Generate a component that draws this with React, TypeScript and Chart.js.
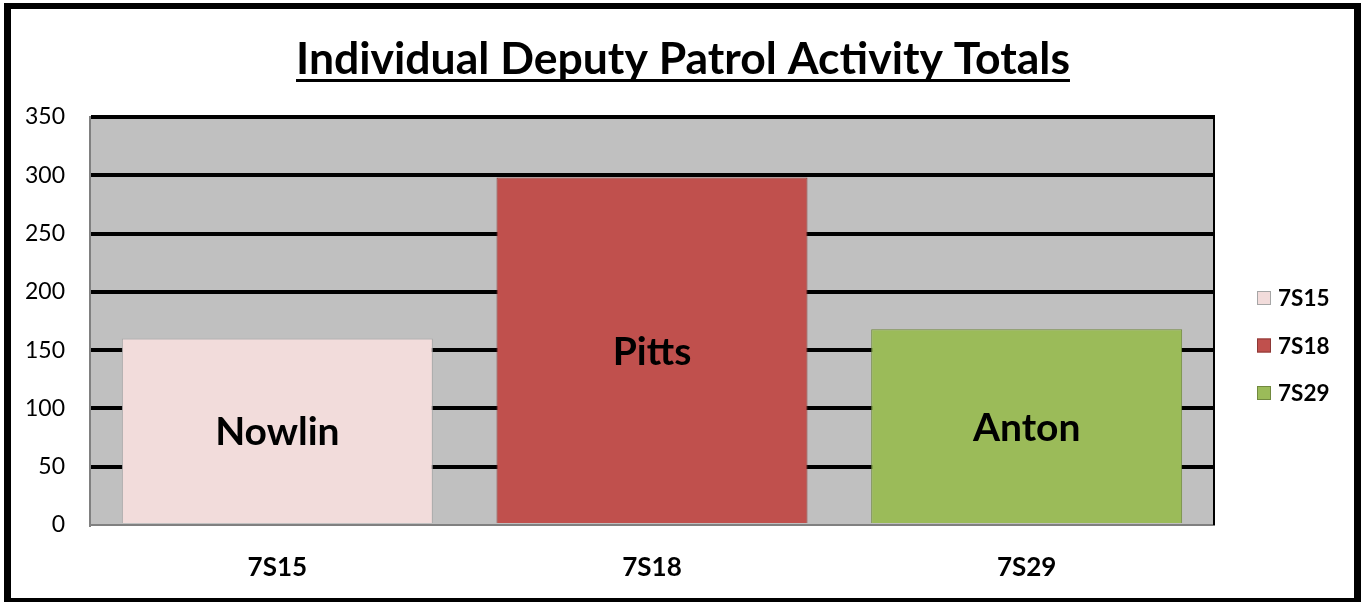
import React, { useEffect, useRef } from "react";
import { Chart, registerables } from "chart.js";

Chart.register(...registerables);

const categories = ["7S15", "7S18", "7S29"];
const deputies = ["Nowlin", "Pitts", "Anton"];
const totals = [160, 298, 168];
const fillColors = ["#F2DCDB", "#C0504D", "#9BBB59"];
const edgeColors = ["#A6A6A6", "#8C3836", "#71893F"];
const yMax = 350;
const yStep = 50;
const titleText = "Individual Deputy Patrol Activity Totals";

const FONT = "Lato, 'Open Sans', sans-serif";

const framePlugin = {
  id: "frame",
  beforeDraw(chart: any) {
    const { ctx, width, height, chartArea } = chart;
    ctx.save();
    ctx.fillStyle = "#000";
    ctx.fillRect(4, 3, width - 4, height - 3);
    ctx.fillStyle = "#fff";
    ctx.fillRect(11, 9, width - 18, height - 13);
    ctx.fillStyle = "#C0C0C0";
    ctx.fillRect(chartArea.left, chartArea.top, chartArea.right - chartArea.left, chartArea.bottom - chartArea.top);
    // title
    ctx.font = `bold 44.5px ${FONT}`;
    ctx.fillStyle = "#000";
    ctx.textAlign = "center";
    ctx.textBaseline = "alphabetic";
    const cx = 683;
    const baseY = 74;
    ctx.fillText(titleText, cx, baseY);
    const w = ctx.measureText(titleText).width;
    ctx.fillRect(cx - w / 2, baseY + 5, w, 3);
    ctx.restore();
  },
  afterDatasetsDraw(chart: any) {
    const { ctx, chartArea } = chart;
    ctx.save();
    ctx.strokeStyle = "#000";
    ctx.lineWidth = 2;
    ctx.beginPath();
    ctx.moveTo(chartArea.right, chartArea.top - 2);
    ctx.lineTo(chartArea.right, chartArea.bottom);
    ctx.stroke();
    // labels in bars
    const meta = chart.getDatasetMeta(0);
    ctx.font = `bold 39px ${FONT}`;
    ctx.fillStyle = "#000";
    ctx.textAlign = "center";
    ctx.textBaseline = "middle";
    meta.data.forEach((el: any, i: number) => {
      ctx.fillText(deputies[i], el.x, (el.y + el.base) / 2 + 2);
    });
    // legend
    ctx.font = `bold 22.5px ${FONT}`;
    ctx.textAlign = "left";
    categories.forEach((c, i) => {
      const y = 298 + i * 47.5;
      ctx.fillStyle = fillColors[i];
      ctx.fillRect(1257, y - 7, 14, 14);
      ctx.strokeStyle = edgeColors[i];
      ctx.lineWidth = 1;
      ctx.strokeRect(1257.5, y - 6.5, 13, 13);
      ctx.fillStyle = "#000";
      ctx.fillText(c, 1278, y + 1);
    });
    ctx.restore();
  },
};

export default function App() {
  const ref = useRef<HTMLCanvasElement>(null);
  useEffect(() => {
    document.body.style.margin = "0";
    const chart = new Chart(ref.current!, {
      type: "bar",
      data: {
        labels: categories,
        datasets: [
          {
            data: totals,
            backgroundColor: fillColors,
            borderColor: edgeColors,
            borderWidth: 1,
            categoryPercentage: 1,
            barPercentage: 0.83,
          },
        ],
      },
      options: {
        responsive: false,
        animation: false,
        layout: { padding: { left: 10, right: 147, top: 117, bottom: 17 } },
        plugins: { legend: { display: false }, title: { display: false }, tooltip: { enabled: false } },
        scales: {
          x: {
            grid: { display: false, drawTicks: false },
            border: { display: true, color: "#808080", width: 2 },
            ticks: { color: "#000", padding: 27, font: { family: FONT, size: 26, weight: "bold" } },
            afterFit: (s: any) => { s.height = 60; },
          },
          y: {
            min: 0,
            max: yMax,
            grid: {
              drawTicks: false,
              lineWidth: 4,
              color: (c: any) => (c.tick && c.tick.value === 0 ? "rgba(0,0,0,0)" : "#000"),
            },
            border: { display: true, color: "#808080", width: 2 },
            ticks: { stepSize: yStep, color: "#000", padding: 25, font: { family: FONT, size: 23 } },
            afterFit: (s: any) => { s.width = 80; },
          },
        },
      },
      plugins: [framePlugin],
    });
    return () => chart.destroy();
  }, []);
  return <canvas ref={ref} width={1361} height={602} style={{ display: "block" }} />;
}
